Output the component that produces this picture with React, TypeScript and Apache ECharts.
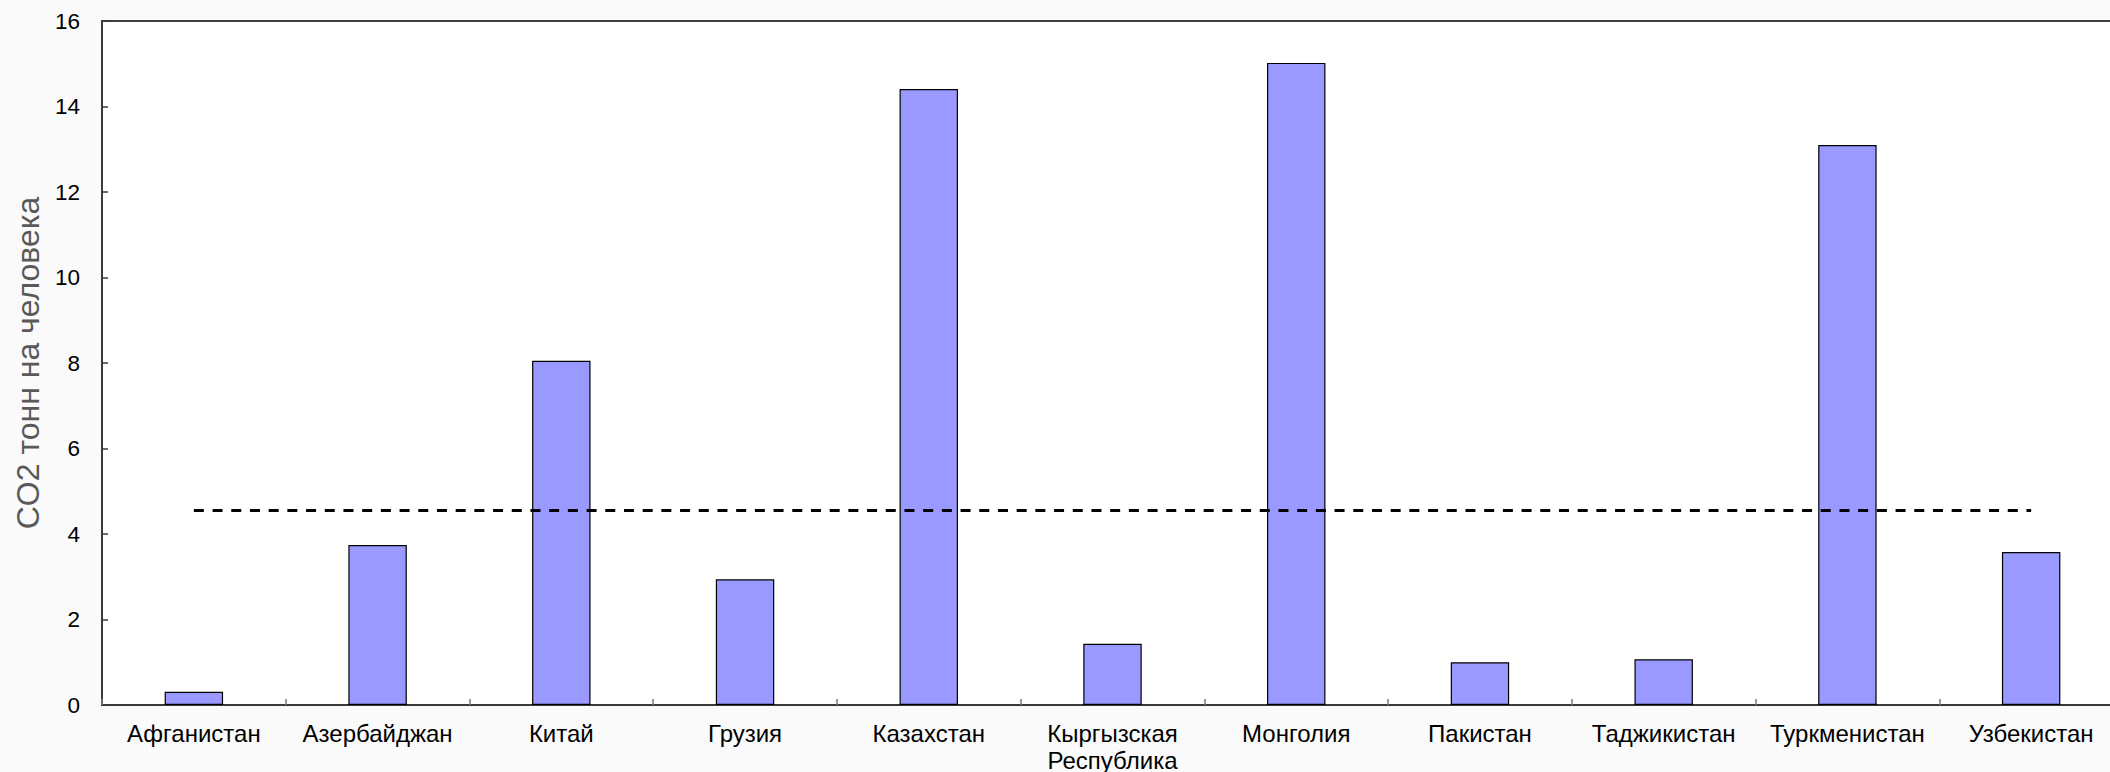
import React, { useEffect, useRef } from "react";
import * as echarts from "echarts";

const categories: string[] = [
  "Афганистан",
  "Азербайджан",
  "Китай",
  "Грузия",
  "Казахстан",
  "Кыргызская Республика",
  "Монголия",
  "Пакистан",
  "Таджикистан",
  "Туркменистан",
  "Узбекистан",
];

const co2PerCapita: number[] = [0.31, 3.74, 8.05, 2.94, 14.41, 1.43, 15.02, 1.0, 1.07, 13.1, 3.58];

const averageValue = 4.56;

const yTicks = { min: 0, max: 16, interval: 2 };

const axisTitle = "CO2 тонн на человека";

const FONT = "'Liberation Sans', Arial, sans-serif";

export default function App() {
  const ref = useRef<HTMLDivElement>(null);

  useEffect(() => {
    if (!ref.current) return;
    const chart = echarts.init(ref.current, undefined, { renderer: "svg" });
    chart.setOption({
      animation: false,
      backgroundColor: "#fafafa",
      grid: {
        left: 102,
        top: 21,
        width: 2021,
        height: 684,
        show: true,
        backgroundColor: "#ffffff",
        borderColor: "#000000",
        borderWidth: 1.5,
        containLabel: false,
        outerBoundsMode: "none",
      },
      xAxis: {
        type: "category",
        data: categories,
        axisLine: { show: true, lineStyle: { color: "#3a3a3a", width: 2 } },
        axisTick: {
          show: true,
          inside: true,
          length: 6,
          alignWithLabel: false,
          lineStyle: { color: "#7a7a7a", width: 1.5 },
        },
        axisLabel: {
          interval: 0,
          color: "#000000",
          fontFamily: FONT,
          fontSize: 24,
          margin: 15,
          lineHeight: 27,
          hideOverlap: false,
          formatter: (v: string) => v.replace(" ", "\n"),
        },
        splitLine: { show: false },
      },
      yAxis: {
        type: "value",
        min: yTicks.min,
        max: yTicks.max,
        interval: yTicks.interval,
        name: axisTitle,
        nameLocation: "middle",
        nameGap: 56,
        nameTextStyle: {
          color: "#595959",
          fontFamily: FONT,
          fontSize: 32,
        },
        axisLine: { show: true, lineStyle: { color: "#3a3a3a", width: 2 } },
        axisTick: {
          show: true,
          inside: true,
          length: 6,
          lineStyle: { color: "#3a3a3a", width: 1.5 },
        },
        axisLabel: {
          color: "#000000",
          fontFamily: FONT,
          fontSize: 22.5,
          margin: 22,
        },
        splitLine: { show: false },
      },
      series: [
        {
          type: "bar",
          data: co2PerCapita,
          barWidth: "31.8%",
          itemStyle: {
            color: "#9999ff",
            borderColor: "#000000",
            borderWidth: 1.2,
          },
          markLine: {
            silent: true,
            symbol: "none",
            label: { show: false },
            lineStyle: { color: "#000000", width: 3, type: [10, 8.7] },
            data: [
              [
                { coord: [categories[0], averageValue] },
                { coord: [categories[categories.length - 1], averageValue] },
              ],
            ],
          },
        },
      ],
    });
    return () => chart.dispose();
  }, []);

  return (
    <div
      ref={ref}
      style={{ position: "fixed", left: 0, top: 0, width: 2110, height: 772 }}
    />
  );
}
